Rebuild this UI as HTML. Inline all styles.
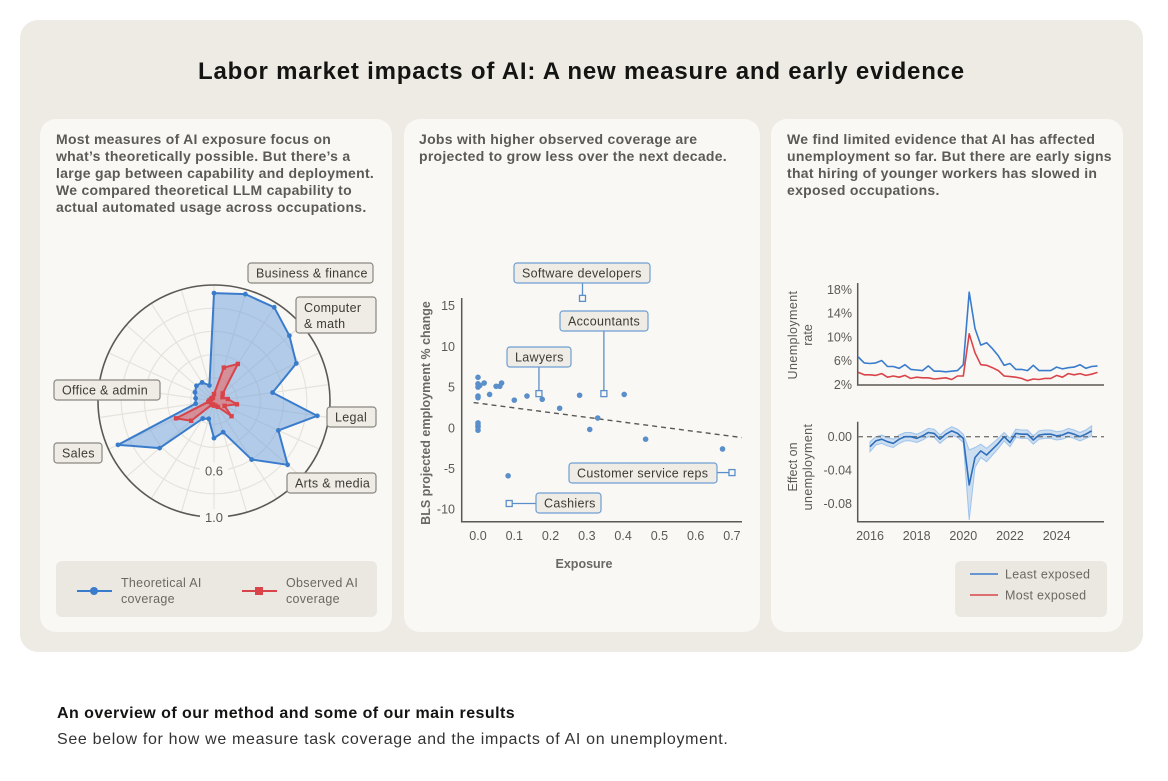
<!DOCTYPE html>
<html><head><meta charset="utf-8">
<style>
*{margin:0;padding:0;box-sizing:border-box}
body{width:1168px;height:781px;background:#fff;font-family:"Liberation Sans",sans-serif;position:relative;overflow:hidden}
.abs{position:absolute}
.outer{left:20px;top:20px;width:1123px;height:632px;background:#eeebe4;border-radius:18px}
.card{top:119px;height:513px;background:#f9f8f5;border-radius:16px}
.desc{font-size:14px;line-height:17px;color:#5d5a55;font-weight:bold;letter-spacing:0.28px;white-space:nowrap}
.title{left:0;width:1163px;top:58px;text-align:center;font-size:24px;font-weight:bold;color:#141413;letter-spacing:0.8px}
svg{position:absolute;left:0;top:0}
</style></head><body>
<div class="abs outer"></div>
<div class="abs title">Labor market impacts of AI: A new measure and early evidence</div>
<div class="abs card" style="left:40px;width:352px"></div>
<div class="abs card" style="left:404px;width:356px"></div>
<div class="abs card" style="left:771px;width:352px"></div>
<div class="abs desc" style="left:56px;top:131px">Most measures of AI exposure focus on<br>what’s theoretically possible. But there’s a<br>large gap between capability and deployment.<br>We compared theoretical LLM capability to<br>actual automated usage across occupations.</div>
<div class="abs desc" style="left:419px;top:131px">Jobs with higher observed coverage are<br>projected to grow less over the next decade.</div>
<div class="abs desc" style="left:787px;top:131px">We find limited evidence that AI has affected<br>unemployment so far. But there are early signs<br>that hiring of younger workers has slowed in<br>exposed occupations.</div>
<div class="abs" style="left:57px;top:705px;font-size:16px;font-weight:bold;color:#141413;letter-spacing:0.45px">An overview of our method and some of our main results</div>
<div class="abs" style="left:57px;top:731px;font-size:16px;color:#333;letter-spacing:0.67px">See below for how we measure task coverage and the impacts of AI on unemployment.</div>

<svg id="chart" width="1168" height="781" font-family="Liberation Sans, sans-serif"></svg>

<script>
// ---- Radar data ----
const radarTheoretical=[0.93,0.96,0.96,0.86,0.78,0.51,0.90,0.61,0.84,0.60,0.28,0.32,0.16,0.18,0.62,0.91,0.16,0.16,0.18,0.20,0.19,0.14];
const radarObserved=[0.06,0.30,0.38,0.10,0.08,0.12,0.20,0.10,0.20,0.06,0.04,0.04,0.03,0.04,0.26,0.36,0.05,0.04,0.03,0.03,0.03,0.03];
const radarTicks=["0.6","1.0"];
// ---- Scatter data ----
const scatterX=[0,0,0,0.005,0.017,0,0,0.032,0.05,0.06,0.065,0,0,0,0,0.10,0.135,0.177,0.225,0.28,0.308,0.33,0.403,0.462,0.674,0.083];
const scatterY=[6.2,5.4,5.0,5.2,5.5,3.9,3.7,4.1,5.1,5.1,5.5,0.6,0.3,0.1,-0.3,3.4,3.9,3.5,2.4,4.0,-0.2,1.2,4.1,-1.4,-2.6,-5.9];
const highlightNames=["Software developers","Accountants","Lawyers","Customer service reps","Cashiers"];
const highlightX=[0.288,0.347,0.168,0.70,0.086];
const highlightY=[15.9,4.2,4.2,-5.5,-9.3];
const trendX=[-0.012,0.727];
const trendY=[3.1,-1.2];
const scatterXTicks=[0,0.1,0.2,0.3,0.4,0.5,0.6,0.7];
const scatterYTicks=[15,10,5,0,-5,-10];
// ---- Unemployment data (quarterly from 2015.5) ----
const unempLeast=[6.6,5.6,5.5,5.6,6.0,5.0,5.0,4.7,5.3,4.5,4.4,4.3,5.1,4.2,4.2,4.1,4.2,4.3,5.3,17.5,11.4,8.6,9.0,8.0,6.8,5.2,5.5,4.5,4.5,4.3,5.2,4.3,4.3,4.3,4.9,4.6,4.8,4.9,5.3,4.7,5.0,5.1];
const unempMost=[4.0,3.6,3.6,3.5,3.8,3.2,3.4,3.2,3.5,3.0,3.2,3.1,3.1,2.9,3.0,3.1,2.8,3.4,3.4,10.5,7.3,5.3,5.2,4.8,4.3,3.4,3.3,3.2,3.0,2.6,2.9,2.8,3.0,3.0,3.5,3.2,3.8,3.6,3.8,3.5,3.7,4.0];
const unempYTicks=[18,14,10,6,2];
// ---- Effect data (quarterly from 2016.0) ----
const effect=[-0.012,-0.005,-0.003,-0.006,-0.008,-0.003,0,0,-0.002,0.001,0.005,0.004,-0.003,0.003,0.007,0.004,-0.002,-0.058,-0.025,-0.017,-0.022,-0.015,-0.008,0,-0.007,0.004,0.003,0.003,-0.004,0.002,0.003,0.003,0.001,0.002,0.005,0.003,0,0.003,0.007];
const effectCI=[0.006,0.005,0.005,0.005,0.005,0.005,0.005,0.005,0.005,0.005,0.005,0.005,0.005,0.005,0.005,0.005,0.005,0.042,0.012,0.008,0.008,0.007,0.006,0.005,0.005,0.005,0.005,0.005,0.005,0.005,0.005,0.005,0.005,0.005,0.005,0.005,0.005,0.005,0.006];
const effectYTicks=[0,-0.04,-0.08];
const yearTicks=[2016,2018,2020,2022,2024];

const svg=document.getElementById('chart');
const NS='http://www.w3.org/2000/svg';
function mk(tag,attrs,parent){const e=document.createElementNS(NS,tag);for(const k in attrs)e.setAttribute(k,attrs[k]);(parent||svg).appendChild(e);return e;}
function txt(s,attrs){const e=mk('text',attrs);e.textContent=s;return e;}

// ===== Radar =====
const cx=214,cy=401,R=116;
function rp(i,v){const a=i*2*Math.PI/radarTheoretical.length;return [cx+Math.sin(a)*v*R,cy-Math.cos(a)*v*R];}
[0.2,0.4,0.6,0.8].forEach(f=>{const c=mk('circle',{cx,cy,r:f*R,fill:'none',stroke:'#e6e3dc','stroke-width':1.2});

});
radarTheoretical.forEach((v,i)=>{const p=rp(i,1);const l=mk('line',{x1:cx,y1:cy,x2:p[0],y2:p[1],stroke:'#e6e3dc','stroke-width':1.2});

});
const oc=mk('circle',{cx,cy,r:R,fill:'none',stroke:'#5c5954','stroke-width':1.6});


function poly(arr,fill,stroke,name,square){
  const pts=arr.map((v,i)=>rp(i,v));
  const pg=mk('polygon',{points:pts.map(p=>p.join(',')).join(' '),fill,stroke,'stroke-width':2,'stroke-linejoin':'round'});
  
  
  pts.forEach(p=>{const m=square?mk('rect',{x:p[0]-2.2,y:p[1]-2.2,width:4.4,height:4.4,fill:stroke}):mk('circle',{cx:p[0],cy:p[1],r:2.4,fill:stroke});
  
  });
}
poly(radarTheoretical,'rgba(120,165,220,0.55)','#3a7ccc','theoretical-coverage-area',false);
poly(radarObserved,'rgba(230,110,110,0.65)','#d9444a','observed-coverage-area',true);
[[0.6,radarTicks[0]],[1.0,radarTicks[1]]].forEach(([v,s])=>{
  const bg=mk('rect',{x:cx-14,y:cy+v*R-8,width:28,height:16,fill:'#f9f8f5'});
  
  
  const t=txt(s,{x:cx,y:cy+v*R+5,'text-anchor':'middle','font-size':13,fill:'#5c5954'});
  
  });
function box(x,y,w,h,lines,name,stroke){
  const r=mk('rect',{x,y,width:w,height:h,rx:3,fill:'#efece6',stroke:stroke||'#8a8680','stroke-width':1.2});
  
  
  lines.forEach((s,k)=>{const t=txt(s,{x:x+8,y:y+(lines.length==1?h/2+4.5:15+k*16),'font-size':12.5,fill:'#3d3a36','letter-spacing':'0.3'});
  
  });
}
box(248,263,125,20,['Business & finance'],'label-business-finance');
box(296,297,80,36,['Computer','& math'],'label-computer-math');
box(327,407,49,20,['Legal'],'label-legal');
box(287,473,89,20,['Arts & media'],'label-arts-media');
box(54,380,106,20,['Office & admin'],'label-office-admin');
box(54,443,48,20,['Sales'],'label-sales');
// legend
const lg=mk('rect',{x:56,y:561,width:321,height:56,rx:6,fill:'#ebe8e1'});


const l1=mk('line',{x1:77,y1:591,x2:112,y2:591,stroke:'#3a7ccc','stroke-width':2});


const d1=mk('circle',{cx:94,cy:591,r:4,fill:'#3a7ccc'});


const l2=mk('line',{x1:242,y1:591,x2:277,y2:591,stroke:'#d9444a','stroke-width':2});


const d2=mk('rect',{x:255,y:587,width:8,height:8,fill:'#d9444a'});


[['Theoretical AI',121,587],['coverage',121,603],['Observed AI',286,587],['coverage',286,603]].forEach(([s,x,y])=>{
  const t=txt(s,{x,y,'font-size':12.5,fill:'#6b6863','letter-spacing':'0.3'});
  
  });

// ===== Scatter =====
const sx=v=>478+v*362.8, sy=v=>427.8-v*8.14;
const ax=mk('path',{d:'M461.7,298 V521.7 H742',fill:'none',stroke:'#5c5954','stroke-width':1.5});


scatterXTicks.forEach(v=>{const t=txt(v.toFixed(1),{x:sx(v),y:540,'text-anchor':'middle','font-size':12.5,fill:'#5c5954'});

});
scatterYTicks.forEach(v=>{const t=txt(String(v),{x:455,y:sy(v)+4.5,'text-anchor':'end','font-size':12.5,fill:'#5c5954'});

});
const xt=txt('Exposure',{x:584,y:568,'text-anchor':'middle','font-size':12.5,'font-weight':'bold',fill:'#6b6863'});


const yt=txt('BLS projected employment % change',{x:0,y:0,transform:'translate(430,413) rotate(-90)','text-anchor':'middle','font-size':12.5,'font-weight':'bold',fill:'#6b6863'});


const tr=mk('line',{x1:sx(trendX[0]),y1:sy(trendY[0]),x2:sx(trendX[1]),y2:sy(trendY[1]),stroke:'#5c5954','stroke-width':1.4,'stroke-dasharray':'5,4'});


scatterX.forEach((x,i)=>{const c=mk('circle',{cx:sx(x),cy:sy(scatterY[i]),r:2.8,fill:'#5b8fc9'});

});
const hlBoxes=[[514,263,136,'v'],[560,311,88,'v'],[507,347,64,'v'],[569,463,148,'h'],[536,493,65,'h']];
highlightNames.forEach((n,i)=>{
  const px=sx(highlightX[i]),py=sy(highlightY[i]);const [bx,by,bw,t]=hlBoxes[i];
  let d;
  if(t=='v'){d=`M${px},${py} V${by+20}`;}
  else{const ex=px>bx+bw?bx+bw:bx;d=`M${px},${py} H${ex}`;}
  const c=mk('path',{d,stroke:'#5b8fc9','stroke-width':1.3,fill:'none'});
  
  
  const s=mk('rect',{x:px-3,y:py-3,width:6,height:6,fill:'#f9f8f5',stroke:'#5b8fc9','stroke-width':1.3});
  
  
  box(bx,by,bw,20,[n],'callout-'+n.toLowerCase().replace(/ /g,'-'),'#6e9ed3');
});

// ===== Unemployment rate =====
const ux=y=>870+(y-2016)*23.33, uy=v=>384.3-(v-2)*5.94;
const ua=mk('path',{d:'M857.7,283 V385 H1104',fill:'none',stroke:'#5c5954','stroke-width':1.5});


unempYTicks.forEach(v=>{const t=txt(v+'%',{x:852,y:uy(v)+4.5,'text-anchor':'end','font-size':12.5,fill:'#5c5954'});

});
function line(arr,x0,fx,fy,col,name){const d=arr.map((v,i)=>(i?'L':'M')+fx(x0+i*0.25).toFixed(1)+','+fy(v).toFixed(1)).join(' ');
const p=mk('path',{d,fill:'none',stroke:col,'stroke-width':1.6,'stroke-linejoin':'round'});

}
line(unempMost,2015.5,ux,uy,'#d9444a','most-exposed-line');
line(unempLeast,2015.5,ux,uy,'#3a7ccc','least-exposed-line');
const ut=txt('Unemployment',{x:0,y:0,transform:'translate(797,335) rotate(-90)','text-anchor':'middle','font-size':12.5,fill:'#5c5954','letter-spacing':'0.4'});


const ut2=txt('rate',{x:0,y:0,transform:'translate(812,335) rotate(-90)','text-anchor':'middle','font-size':12.5,fill:'#5c5954'});



// ===== Effect =====
const ex=y=>870+(y-2016)*23.33, ey=v=>436.7-v*833;
const ea=mk('path',{d:'M857.7,421.7 V521.7 H1104',fill:'none',stroke:'#5c5954','stroke-width':1.5});


const band=effect.map((v,i)=>ex(2016+i*0.25).toFixed(1)+','+ey(v+effectCI[i]).toFixed(1)).concat(effect.map((v,i)=>ex(2016+i*0.25).toFixed(1)+','+ey(v-effectCI[i]).toFixed(1)).reverse());
const bp=mk('polygon',{points:band.join(' '),fill:'rgba(150,190,235,0.45)',stroke:'rgba(140,185,235,0.8)','stroke-width':1});


const zl=mk('line',{x1:858,y1:ey(0),x2:1104,y2:ey(0),stroke:'#777','stroke-width':1.3,'stroke-dasharray':'5,4'});


line(effect,2016,ex,ey,'#2f6fba','effect-line');
effectYTicks.forEach(v=>{const t=txt(v.toFixed(2),{x:852,y:ey(v)+4.5,'text-anchor':'end','font-size':12.5,fill:'#5c5954'});

});
yearTicks.forEach(y=>{const t=txt(String(y),{x:ex(y),y:540,'text-anchor':'middle','font-size':12.5,fill:'#5c5954'});

});
const et=txt('Effect on',{x:0,y:0,transform:'translate(797,467) rotate(-90)','text-anchor':'middle','font-size':12.5,fill:'#5c5954'});


const et2=txt('unemployment',{x:0,y:0,transform:'translate(812,467) rotate(-90)','text-anchor':'middle','font-size':12.5,fill:'#5c5954','letter-spacing':'0.4'});


// legend
const lg2=mk('rect',{x:955,y:561,width:152,height:56,rx:6,fill:'#ebe8e1'});


[['Least exposed','#3a7ccc',578],['Most exposed','#d9444a',599]].forEach(([s,c,y])=>{
  const l=mk('line',{x1:970,y1:y-4,x2:998,y2:y-4,stroke:c,'stroke-width':1.6});
  
  
  const t=txt(s,{x:1005,y:y+0.5,'font-size':12.5,fill:'#6b6863','letter-spacing':'0.3'});
  
  });
</script>
</body></html>
